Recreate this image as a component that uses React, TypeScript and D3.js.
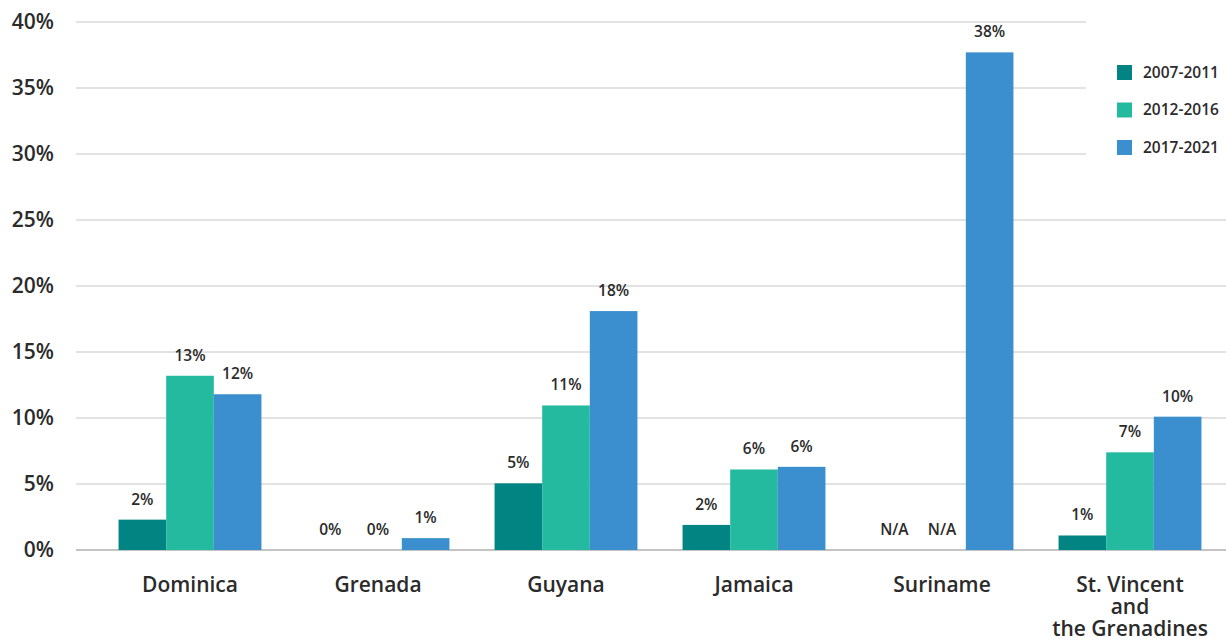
import React from "react";
import * as d3 from "d3";

const categories = ["Dominica", "Grenada", "Guyana", "Jamaica", "Suriname", "St. Vincent\nand\nthe Grenadines"];
const seriesNames = ["2007-2011", "2012-2016", "2017-2021"];
const seriesColors = ["#028482", "#24BA9F", "#3C8FCF"];
const values2007: (number | null)[] = [2.3, 0, 5.05, 1.9, null, 1.1];
const values2012: (number | null)[] = [13.2, 0, 10.95, 6.1, null, 7.4];
const values2017: (number | null)[] = [11.8, 0.9, 18.1, 6.3, 37.7, 10.1];
const labels2007 = ["2%", "0%", "5%", "2%", "N/A", "1%"];
const labels2012 = ["13%", "0%", "11%", "6%", "N/A", "7%"];
const labels2017 = ["12%", "1%", "18%", "6%", "38%", "10%"];
const yTicks = [0, 5, 10, 15, 20, 25, 30, 35, 40];

const W = 1226;
const H = 641;
const FONT = "'Open Sans', 'Noto Sans', sans-serif";
const TEXT = "#2b2b2b";

export default function App() {
  const y = d3.scaleLinear().domain([0, 40]).range([550, 22]);
  const x0 = d3.scaleBand<string>().domain(categories).range([96, 1224]).paddingInner(0.24).paddingOuter(0.12);
  const x1 = d3.scaleBand<string>().domain(seriesNames).range([0, x0.bandwidth()]);
  const allValues = [values2007, values2012, values2017];
  const allLabels = [labels2007, labels2012, labels2017];

  return (
    <svg width={W} height={H} style={{ position: "absolute", left: 0, top: 0, fontFamily: FONT }}>
      <rect x={0} y={0} width={W} height={H} fill="#fff" />
      {yTicks.map((t) => (
        <line key={"g" + t} x1={76} x2={W} y1={y(t)} y2={y(t)} stroke={t === 0 ? "#c4c4c4" : "#d9d9d9"} strokeWidth={t === 0 ? 2 : 1.5} />
      ))}
      <rect x={1086} y={0} width={W - 1086} height={200} fill="#fff" />
      {yTicks.map((t) => (
        <text key={"t" + t} x={54} y={y(t)} dy="0.35em" textAnchor="end" fontSize={21} fontWeight={600} fill={TEXT}>
          {t + "%"}
        </text>
      ))}
      {categories.map((c, ci) => (
        <g key={c} transform={`translate(${x0(c)},0)`}>
          {seriesNames.map((s, si) => {
            const v = allValues[si][ci];
            const bx = x1(s)!;
            const top = v == null ? y(0) : y(v);
            return (
              <g key={s}>
                {v != null && v > 0 && (
                  <rect x={bx} y={top} width={x1.bandwidth()} height={y(0) - top} fill={seriesColors[si]} />
                )}
                <text x={bx + x1.bandwidth() / 2} y={top - 15} textAnchor="middle" fontSize={15.5} fontWeight={600} fill={TEXT}>
                  {allLabels[si][ci]}
                </text>
              </g>
            );
          })}
          {c.split("\n").map((line, li) => (
            <text key={li} x={x0.bandwidth() / 2} y={592 + li * 22} textAnchor="middle" fontSize={21} fontWeight={600} fill={TEXT}>
              {line}
            </text>
          ))}
        </g>
      ))}
      {seriesNames.map((s, si) => (
        <g key={s} transform={`translate(1117,${65 + si * 37.5})`}>
          <rect x={0} y={0} width={15} height={15} fill={seriesColors[si]} />
          <text x={26} y={7.5} dy="0.35em" fontSize={15.5} fontWeight={600} fill={TEXT}>
            {s}
          </text>
        </g>
      ))}
    </svg>
  );
}
